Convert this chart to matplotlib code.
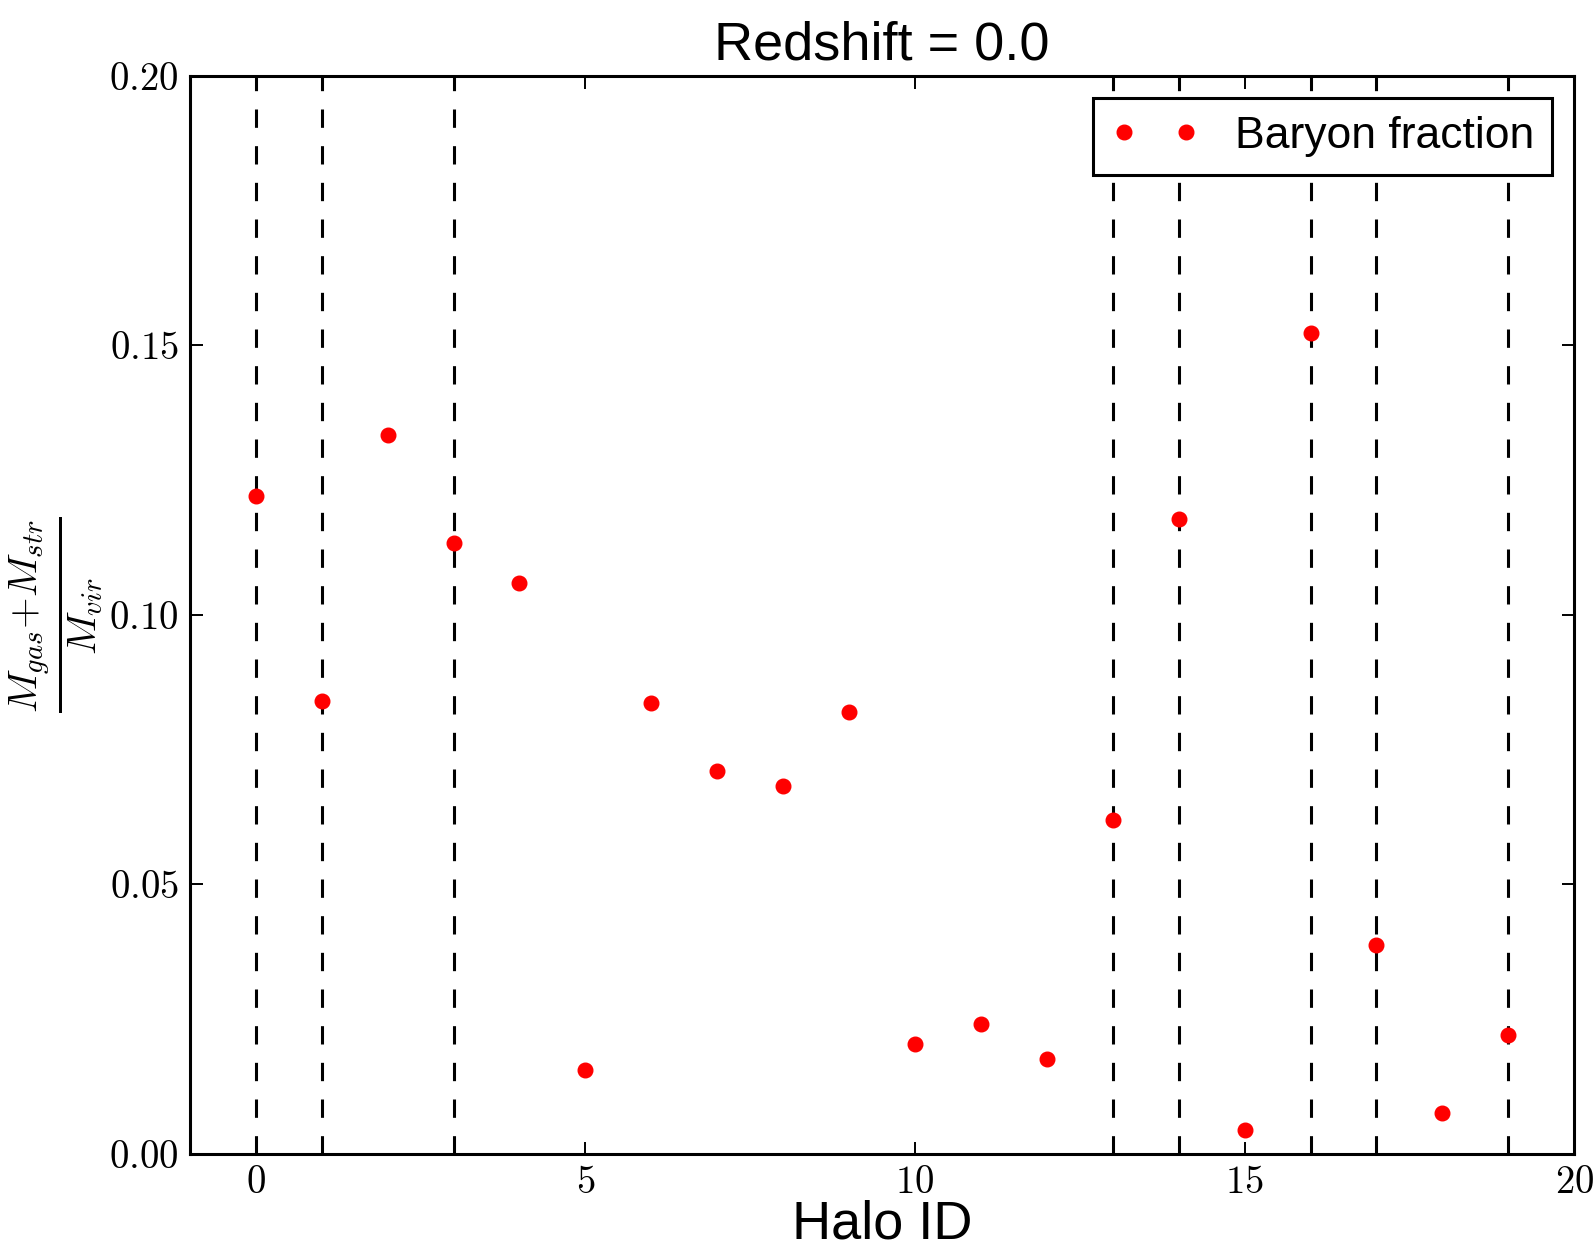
import numpy as np
import matplotlib
matplotlib.use("Agg")
import matplotlib.pyplot as plt
from matplotlib.ticker import FuncFormatter, MultipleLocator

plt.rcParams['mathtext.fontset'] = 'cm'
plt.rcParams['font.family'] = ['Liberation Sans', 'DejaVu Sans']

# data
halo_id = np.arange(20)
baryon_frac = [0.1220, 0.0840, 0.1333, 0.1133, 0.1059, 0.0155, 0.0837, 0.0710,
               0.0682, 0.0820, 0.0204, 0.0242, 0.0176, 0.0619, 0.1178, 0.0045,
               0.1522, 0.0387, 0.0077, 0.0221]
marked_halos = [0, 1, 3, 13, 14, 16, 17, 19]

fig = plt.figure(figsize=(15.95, 12.48), dpi=100)
ax = fig.add_axes([0.119, 0.0753, 0.868, 0.864])

for h in marked_halos:
    ax.axvline(h, color='k', lw=2.2, dashes=(6, 6), zorder=1)

ax.plot(halo_id, baryon_frac, 'o', color='red', mec='red', ms=10.5,
        label='Baryon fraction', zorder=3)

ax.set_xlim(-1, 20)
ax.set_ylim(0, 0.2)
ax.xaxis.set_major_locator(MultipleLocator(5))
ax.yaxis.set_major_locator(MultipleLocator(0.05))
ax.xaxis.set_major_formatter(FuncFormatter(lambda v, p: r'$%d$' % v))
ax.yaxis.set_major_formatter(FuncFormatter(lambda v, p: r'$%.2f$' % v))
ax.tick_params(direction='in', top=True, right=True, length=9, width=1.4,
               labelsize=28, pad=8)
for s in ax.spines.values():
    s.set_linewidth(2.2)

ax.set_title('Redshift = 0.0', fontsize=39, pad=12)
ax.set_xlabel('Halo ID', fontsize=39, labelpad=-1)
ax.set_ylabel(r'$\frac{M_{gas}{+}M_{str}}{M_{vir}}$', fontsize=42, labelpad=3)

leg = ax.legend(loc='upper right', numpoints=2, fontsize=32, fancybox=False,
                framealpha=1, borderaxespad=0.5)
leg.get_frame().set_edgecolor('k')
leg.get_frame().set_linewidth(2.2)

fig.savefig('out.png', dpi=100)
